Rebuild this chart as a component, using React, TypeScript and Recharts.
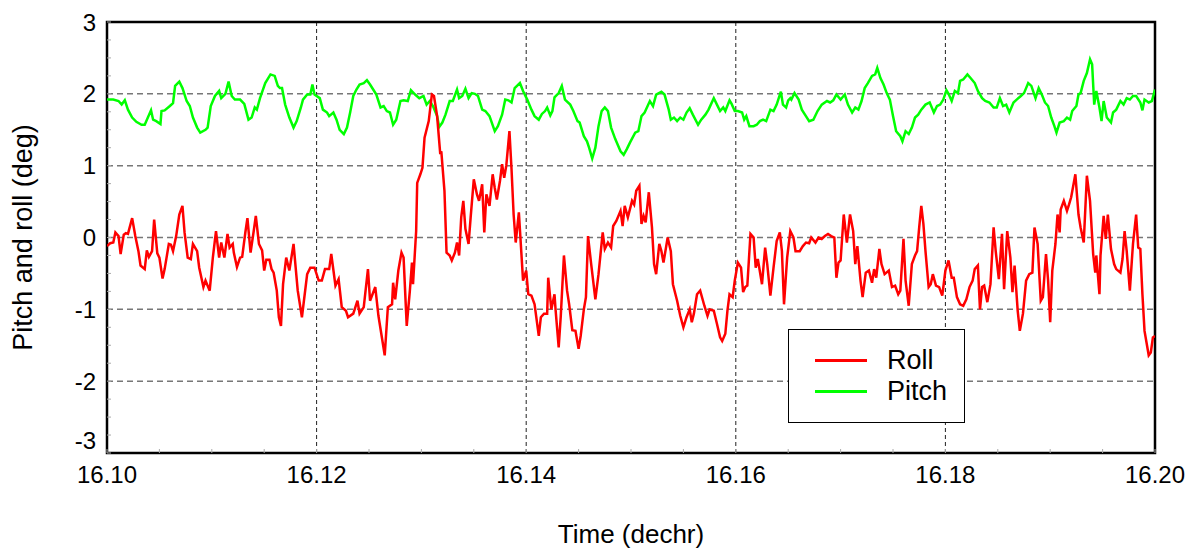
import { LineChart, Line, XAxis, YAxis, CartesianGrid, ReferenceArea, Legend } from 'recharts'

const FONT = '"Liberation Sans", Arial, Helvetica, sans-serif'

// tick labels
const xMajor = [16.1, 16.12, 16.14, 16.16, 16.18, 16.2]
const yMajor = [-3, -2, -1, 0, 1, 2, 3]
const xMinorStep = 0.005
const yMinorStep = 0.25
const legendOrder = ['Roll', 'Pitch']

// pitch (deg)
const pitchTime = [
  16.1, 16.1006, 16.1011, 16.1014, 16.1017, 16.102, 16.1024, 16.1028, 16.1033, 16.1036, 16.1039, 16.1042, 16.1044, 16.1047, 16.1051, 16.1052, 16.1055, 16.106, 16.1063, 16.1065, 16.1069, 16.1072, 16.1076, 16.1079, 16.1082, 16.1086, 16.1089, 16.1094, 16.1096, 16.1099, 16.1103, 16.1107, 16.1109, 16.1113, 16.1116, 16.1119, 16.1122, 16.1127, 16.1131, 16.1135, 16.1138, 16.1141, 16.1143, 16.1146, 16.1151, 16.1156, 16.116, 16.1163, 16.1165,
  16.1167, 16.117, 16.1174, 16.1178, 16.1181, 16.1185, 16.1187, 16.1191, 16.1194, 16.1196, 16.1198, 16.1203, 16.1206, 16.121, 16.1212, 16.1216, 16.1219, 16.1222, 16.1226, 16.1229, 16.1232, 16.1235, 16.1238, 16.1241, 16.1245, 16.1248, 16.1251, 16.1254, 16.1257, 16.1261, 16.1264, 16.1267, 16.127, 16.1273, 16.1276, 16.128, 16.1283, 16.1287, 16.129, 16.1294, 16.1298, 16.1302, 16.1305, 16.1308, 16.1311, 16.1315, 16.1317, 16.132, 16.1323, 16.1327,
  16.133, 16.1334, 16.1336, 16.1339, 16.1342, 16.1345, 16.1348, 16.1351, 16.1354, 16.1358, 16.1361, 16.1365, 16.137, 16.1373, 16.1377, 16.138, 16.1383, 16.1386, 16.1389, 16.1394, 16.1397, 16.1401, 16.1405, 16.1408, 16.1412, 16.1415, 16.1418, 16.142, 16.1423, 16.1425, 16.1427, 16.1431, 16.1434, 16.1437, 16.1442, 16.1445, 16.1449, 16.1451, 16.1455, 16.1458, 16.146, 16.1463, 16.1466, 16.1469, 16.1472, 16.1475, 16.1478, 16.1481, 16.1485, 16.149,
  16.1493, 16.1496, 16.1499, 16.1504, 16.1507, 16.151, 16.1513, 16.1518, 16.1521, 16.1524, 16.1529, 16.1532, 16.1536, 16.1538, 16.1541, 16.1544, 16.1547, 16.155, 16.1553, 16.1556, 16.1559, 16.1564, 16.1567, 16.1571, 16.1574, 16.1579, 16.1582, 16.1585, 16.1588, 16.159, 16.1594, 16.1596, 16.1599, 16.1602, 16.1606, 16.1608, 16.161, 16.1613, 16.1617, 16.162, 16.1623, 16.1626, 16.1629, 16.1633, 16.1636, 16.1639, 16.1643, 16.1645, 16.1648, 16.165, 16.1652,
  16.1653, 16.1656, 16.166, 16.1663, 16.1666, 16.167, 16.1674, 16.1678, 16.1682, 16.1687, 16.169, 16.1693, 16.1696, 16.17, 16.1704, 16.1707, 16.1711, 16.1714, 16.1717, 16.172, 16.1723, 16.1726, 16.173, 16.1733, 16.1735, 16.1738, 16.1741, 16.1744, 16.1747, 16.175, 16.1753, 16.1757, 16.1759, 16.1762, 16.1765, 16.1768, 16.1771, 16.1774, 16.1777, 16.1781, 16.1785, 16.1789, 16.1792, 16.1795, 16.1798, 16.1801, 16.1803, 16.1806, 16.1809, 16.1812, 16.1814,
  16.1817, 16.1821, 16.1824, 16.1828, 16.1831, 16.1835, 16.1838, 16.1842, 16.1846, 16.1849, 16.1852, 16.1855, 16.1858, 16.1861, 16.1865, 16.1868, 16.1872, 16.1875, 16.1879, 16.1882, 16.1886, 16.1889, 16.1892, 16.1895, 16.1898, 16.1901, 16.1904, 16.1906, 16.1909, 16.1913, 16.1916, 16.1919, 16.1921, 16.1925, 16.1927, 16.1929, 16.1932, 16.1935, 16.1938, 16.194, 16.1942, 16.1944, 16.1947, 16.1949, 16.1951, 16.1954, 16.1958, 16.196, 16.1963, 16.1967, 16.197, 16.1973, 16.1976, 16.1979, 16.1982, 16.1986, 16.1988, 16.199, 16.1994, 16.1997, 16.2,
]
const pitchDeg = [
  1.92, 1.92, 1.9, 1.85, 1.91, 1.78, 1.67, 1.61, 1.57, 1.57, 1.67, 1.77, 1.64, 1.62, 1.58, 1.76, 1.77, 1.83, 1.87, 2.11, 2.17, 2.08, 1.9, 1.83, 1.67, 1.53, 1.46, 1.5, 1.53, 1.83, 1.97, 2.04, 1.94, 2.0, 2.17, 1.97, 1.92, 1.92, 1.86, 1.64, 1.67, 1.81, 1.78, 1.94, 2.15, 2.27, 2.25, 2.11, 2.08,
  2.08, 1.85, 1.67, 1.53, 1.62, 1.81, 1.92, 1.99, 1.99, 2.13, 1.99, 1.94, 1.78, 1.74, 1.69, 1.74, 1.64, 1.5, 1.44, 1.53, 1.74, 1.97, 2.06, 2.13, 2.15, 2.19, 2.13, 2.06, 1.99, 1.81, 1.83, 1.76, 1.74, 1.57, 1.64, 1.9, 1.91, 1.9, 2.05, 1.99, 1.94, 1.97, 1.85, 1.9, 1.83, 1.69, 1.54, 1.6, 1.71, 1.9,
  1.9, 2.06, 1.94, 1.97, 2.07, 1.94, 2.01, 2.0, 1.97, 1.78, 1.76, 1.69, 1.48, 1.55, 1.71, 1.92, 1.91, 1.88, 2.08, 2.15, 2.04, 1.92, 1.78, 1.69, 1.64, 1.72, 1.76, 1.81, 1.7, 1.76, 1.95, 2.01, 2.11, 1.92, 1.85, 1.76, 1.62, 1.6, 1.41, 1.34, 1.25, 1.1, 1.25, 1.55, 1.76, 1.81, 1.76, 1.53, 1.37, 1.2,
  1.15, 1.23, 1.32, 1.46, 1.48, 1.69, 1.74, 1.9, 1.83, 1.99, 2.03, 1.99, 1.78, 1.64, 1.67, 1.62, 1.67, 1.64, 1.74, 1.8, 1.71, 1.57, 1.64, 1.71, 1.78, 1.94, 1.85, 1.76, 1.81, 1.76, 1.91, 1.86, 1.76, 1.76, 1.74, 1.64, 1.69, 1.55, 1.55, 1.57, 1.62, 1.64, 1.62, 1.78, 1.76, 1.85, 2.03, 1.85, 1.81, 1.91, 1.94,
  1.92, 2.01, 1.92, 1.78, 1.71, 1.62, 1.64, 1.76, 1.85, 1.9, 1.88, 1.91, 1.99, 1.92, 1.99, 1.85, 1.74, 1.81, 1.78, 1.9, 2.08, 2.15, 2.25, 2.27, 2.36, 2.22, 2.13, 2.01, 1.92, 1.69, 1.48, 1.41, 1.34, 1.48, 1.44, 1.53, 1.67, 1.71, 1.78, 1.85, 1.88, 1.74, 1.83, 1.85, 1.92, 2.05, 2.0, 1.9, 2.04, 2.01, 2.18,
  2.2, 2.27, 2.22, 2.15, 2.04, 1.94, 1.9, 1.88, 1.81, 1.81, 1.94, 1.83, 1.85, 1.74, 1.88, 1.92, 1.97, 2.01, 2.15, 2.11, 1.94, 2.08, 1.99, 1.88, 1.83, 1.67, 1.55, 1.46, 1.6, 1.62, 1.67, 1.64, 1.76, 1.83, 1.99, 2.01, 2.18, 2.29, 2.48, 2.41, 1.85, 2.04, 1.81, 1.62, 1.9, 1.67, 1.6, 1.74, 1.78, 1.9, 1.85, 1.94, 1.92, 1.97, 1.97, 1.88, 1.77, 1.92, 1.88, 1.9, 2.06,
]

// roll (deg)
const rollTime = [
  16.1, 16.1003, 16.1006, 16.1008, 16.1011, 16.1013, 16.1016, 16.1018, 16.102, 16.1024, 16.1027, 16.103, 16.1032, 16.1036, 16.1038, 16.104, 16.1043, 16.1045, 16.1048, 16.105, 16.1053, 16.1055, 16.1059, 16.1061, 16.1063, 16.1066, 16.1069, 16.1072, 16.1074, 16.1077, 16.108, 16.1082, 16.1086, 16.1088, 16.1092, 16.1094, 16.1098, 16.1101, 16.1104, 16.1107, 16.1109, 16.1112, 16.1115, 16.1117, 16.112, 16.1121, 16.1124, 16.1127, 16.1129, 16.1132, 16.1134, 16.1137, 16.114, 16.1142, 16.1145, 16.1148, 16.115, 16.1152, 16.1155, 16.1157, 16.1159, 16.1162, 16.1164,
  16.1166, 16.1168, 16.1171, 16.1174, 16.1178, 16.1182, 16.1186, 16.1191, 16.1194, 16.1198, 16.1202, 16.1205, 16.1208, 16.1212, 16.1214, 16.1218, 16.1221, 16.1224, 16.1228, 16.123, 16.1235, 16.1239, 16.1241, 16.1245, 16.1249, 16.1251, 16.1256, 16.1259, 16.1265, 16.1268, 16.1272, 16.1273, 16.1275, 16.1278, 16.1281, 16.1283, 16.1286, 16.1289, 16.1291, 16.1292, 16.1295, 16.1296, 16.1299, 16.1301, 16.1303, 16.1307, 16.131, 16.1312, 16.1315, 16.1318, 16.1319, 16.1322, 16.1324, 16.1327,
  16.1329, 16.1332, 16.1334, 16.1336, 16.1338, 16.134, 16.1342, 16.1345, 16.1347, 16.135, 16.1353, 16.1355, 16.1358, 16.136, 16.1362, 16.1365, 16.1368, 16.137, 16.1372, 16.1375, 16.1377, 16.1379, 16.1381, 16.1384, 16.1386, 16.1388, 16.139, 16.1393, 16.1397, 16.14, 16.1402, 16.1405, 16.1408, 16.1412, 16.1414, 16.1417, 16.142, 16.1421, 16.1424, 16.1427, 16.1428, 16.1431, 16.1433, 16.1436, 16.1439, 16.1441, 16.1444, 16.1447, 16.145, 16.1452, 16.1455, 16.1457, 16.1459, 16.1462, 16.1466, 16.1469, 16.1473, 16.1475, 16.1478, 16.1481, 16.1483, 16.1486, 16.149,
  16.1492, 16.1494, 16.1497, 16.1501, 16.1503, 16.1505, 16.1508, 16.151, 16.1512, 16.1514, 16.1517, 16.152, 16.1522, 16.1524, 16.1527, 16.1529, 16.1531, 16.1535, 16.1538, 16.154, 16.1544, 16.1547, 16.155, 16.1553, 16.1556, 16.1558, 16.156, 16.1563, 16.1566, 16.157, 16.1573, 16.1575, 16.1579, 16.1582, 16.1585, 16.1587, 16.159, 16.1592, 16.1594, 16.1597, 16.1599, 16.1602, 16.1605, 16.1607, 16.1609, 16.1611, 16.1614, 16.1617, 16.1619, 16.1621, 16.1625, 16.1628, 16.163, 16.1633, 16.1636, 16.1639, 16.1642, 16.1644, 16.1646, 16.1649, 16.1652,
  16.1655, 16.1657, 16.1661, 16.1664, 16.1667, 16.167, 16.1672, 16.1676, 16.1679, 16.1682, 16.1685, 16.1688, 16.1691, 16.1694, 16.1696, 16.1698, 16.17, 16.1703, 16.1706, 16.1709, 16.1712, 16.1714, 16.1716, 16.1719, 16.1721, 16.1724, 16.1727, 16.173, 16.1732, 16.1734, 16.1737, 16.1739, 16.1742, 16.1746, 16.1749, 16.1752, 16.1755, 16.1757, 16.176, 16.1762, 16.1765, 16.1768, 16.1771, 16.1773, 16.1775, 16.1777, 16.1779, 16.1781, 16.1784, 16.1786, 16.1788, 16.1791, 16.1794, 16.1797, 16.18, 16.1803, 16.1806, 16.1808, 16.1811, 16.1814,
  16.1817, 16.182, 16.1823, 16.1826, 16.1828, 16.1831, 16.1833, 16.1835, 16.1837, 16.184, 16.1843, 16.1846, 16.1848, 16.1851, 16.1854, 16.1856, 16.1859, 16.1862, 16.1864, 16.1866, 16.1869, 16.1871, 16.1874, 16.1877, 16.188, 16.1883, 16.1885, 16.1888, 16.1891, 16.1893, 16.1896, 16.1898, 16.19, 16.1902, 16.1905, 16.1907, 16.1909, 16.191, 16.1913, 16.1916, 16.1918, 16.192, 16.1924, 16.1927, 16.1929, 16.1932, 16.1935, 16.1938, 16.1941, 16.1943, 16.1944, 16.1947, 16.1948, 16.1951, 16.1953, 16.1955, 16.1958, 16.1961, 16.1963, 16.1967, 16.1969, 16.1971, 16.1973, 16.1976, 16.1978, 16.1979, 16.1982, 16.1984, 16.1986, 16.1988, 16.199, 16.1994, 16.1996, 16.1998, 16.2,
]
const rollDeg = [
  -0.12, -0.08, -0.07, 0.07, 0.02, -0.23, 0.04, 0.06, 0.05, 0.27, 0.02, -0.19, -0.39, -0.44, -0.18, -0.27, -0.19, 0.25, -0.22, -0.28, -0.57, -0.44, -0.09, -0.1, -0.19, 0.02, 0.32, 0.44, 0.07, -0.28, -0.3, -0.09, -0.19, -0.42, -0.69, -0.6, -0.74, -0.28, 0.09, -0.28, -0.07, -0.28, 0.05, -0.14, -0.09, -0.21, -0.41, -0.28, -0.27, 0.07, 0.27, -0.21, 0.09, 0.3, -0.09, -0.18, -0.46, -0.31, -0.31, -0.44, -0.49, -0.74, -1.11,
  -1.23, -0.65, -0.28, -0.46, -0.09, -0.74, -1.11, -0.51, -0.42, -0.42, -0.6, -0.6, -0.44, -0.44, -0.23, -0.67, -0.58, -0.97, -1.02, -1.11, -1.06, -0.88, -1.06, -0.97, -0.44, -0.88, -0.69, -1.09, -1.64, -0.97, -0.93, -0.63, -0.86, -0.46, -0.21, -0.28, -1.23, -0.74, -0.35, -0.65, 0.09, 0.76, 0.88, 0.97, 1.39, 1.62, 1.99, 1.97, 1.69, 1.16, 1.2, 0.65, -0.21, -0.25,
  -0.32, -0.21, -0.07, -0.25, 0.28, 0.51, 0.12, -0.09, 0.28, 0.81, 0.6, 0.51, 0.74, 0.07, 0.6, 0.44, 0.88, 0.69, 0.53, 0.79, 1.02, 0.83, 1.0, 1.48, 0.95, 0.32, -0.07, 0.35, -0.6, -0.46, -0.79, -0.81, -0.93, -1.37, -1.11, -1.06, -1.06, -0.56, -1.0, -0.79, -1.0, -1.53, -1.09, -0.25, -0.74, -0.93, -1.29, -1.3, -1.55, -1.37, -1.0, -0.83, 0.02, -0.37, -0.86, -0.51, 0.07, -0.16, -0.07, -0.14, 0.16, 0.23, 0.37,
  0.16, 0.44, 0.28, 0.51, 0.46, 0.65, 0.72, 0.19, 0.3, 0.21, 0.63, 0.14, -0.37, -0.51, -0.09, -0.19, -0.35, 0.0, -0.19, -0.65, -0.88, -1.09, -1.25, -1.11, -1.0, -1.18, -1.06, -0.79, -0.74, -0.95, -1.09, -1.0, -1.02, -1.2, -1.39, -1.44, -1.34, -1.02, -0.79, -0.83, -0.6, -0.35, -0.42, -0.76, -0.69, -0.67, 0.05, 0.0, -0.42, -0.3, -0.65, -0.14, -0.37, -0.81, -0.42, -0.05, 0.07, -0.19, -0.93, -0.28, 0.09,
  0.0, -0.19, -0.19, -0.12, -0.07, -0.08, 0.0, -0.07, 0.0, -0.02, 0.02, 0.05, 0.02, 0.0, -0.56, -0.35, -0.32, 0.32, -0.07, 0.32, 0.09, -0.37, -0.12, -0.6, -0.83, -0.49, -0.46, -0.63, -0.44, -0.56, -0.16, -0.37, -0.51, -0.46, -0.69, -0.67, -0.79, -0.74, -0.02, -0.6, -0.95, -0.37, -0.25, -0.19, 0.14, 0.44, 0.19, -0.19, -0.69, -0.65, -0.51, -0.67, -0.69, -0.81, -0.46, -0.32, -0.56, -0.56, -0.83, -0.93,
  -0.95, -0.86, -0.69, -0.6, -0.44, -0.39, -1.0, -0.69, -0.67, -0.9, -0.65, 0.14, -0.19, -0.58, 0.05, -0.72, 0.09, -0.28, -0.76, -0.39, -1.02, -1.3, -1.06, -0.6, -0.51, -0.49, 0.14, -0.09, -0.88, -0.83, -0.23, -0.6, -1.18, -0.46, -0.09, 0.32, 0.07, 0.39, 0.51, 0.37, 0.46, 0.56, 0.88, 0.32, 0.14, -0.07, 0.86, 0.51, -0.23, -0.49, -0.25, -0.79, -0.25, 0.3, -0.02, 0.32, -0.16, -0.37, -0.44, -0.49, -0.3, 0.09, -0.19, -0.74, -0.3, -0.09, 0.32, -0.14, -0.16, -0.79, -1.3, -1.64, -1.6, -1.39, -1.37,
]

const zip = (t: number[], v: number[]) =>
  t.slice(0, Math.min(t.length, v.length)).map((time, i) => ({ time, value: v[i] }))

const pitchData = zip(pitchTime, pitchDeg)
const rollData = zip(rollTime, rollDeg)

const xTicks = Array.from({ length: 21 }, (_, i) => +(16.1 + i * xMinorStep).toFixed(4))
const yTicks = Array.from({ length: 25 }, (_, i) => +(-3 + i * yMinorStep).toFixed(2))
const isMajor = (v: number, list: number[]) => list.some(m => Math.abs(m - v) < 1e-6)

function YTick({ x, y, payload }: any) {
  const v = payload?.value
  if (!isMajor(v, yMajor)) return <g />
  // the lowest label sits a bit higher, clear of the 16.10 label
  const dy = v === yMajor[0] ? -4 : 8.5
  return (
    <text x={x} y={y} dy={dy} textAnchor="end" fill="#000" fontSize={24} fontFamily={FONT}>
      {v}
    </text>
  )
}

function LegendBox({ payload }: any) {
  const items = [...(payload ?? [])].sort(
    (a, b) => legendOrder.indexOf(a.value) - legendOrder.indexOf(b.value)
  )
  return (
    <div style={{
      boxSizing: 'border-box', width: 177, height: 94, border: '1.5px solid #000',
      background: '#fff', paddingTop: 15,
    }}>
      {items.map(item => (
        <div key={item.value} style={{ display: 'flex', alignItems: 'center', height: 31 }}>
          <span style={{ display: 'inline-block', marginLeft: 26, width: 52, height: 2.5, background: item.color }} />
          <span style={{ marginLeft: 20, fontSize: 27, fontFamily: FONT, color: '#000', lineHeight: '31px' }}>
            {item.value}
          </span>
        </div>
      ))}
    </div>
  )
}

export default function App() {
  return (
    <div style={{ position: 'absolute', left: 0, top: 0, background: '#fff' }}>
      <LineChart width={1203} height={550} margin={{ top: 22, right: 48, left: 7, bottom: 0 }}>
        <CartesianGrid horizontal={false} verticalValues={[16.12, 16.14, 16.16, 16.18]}
          stroke="#222" strokeDasharray="4 3" />
        <CartesianGrid vertical={false} horizontalValues={[-2, -1, 0, 1, 2]}
          stroke="#777" strokeWidth={1.5} strokeDasharray="6 4" />
        <XAxis
          dataKey="time" type="number" domain={[16.1, 16.2]} allowDataOverflow
          ticks={xTicks} interval={0} height={97}
          tickFormatter={(v: number) => (isMajor(v, xMajor) ? v.toFixed(2) : '')}
          tick={{ fill: '#000', fontSize: 24, fontFamily: FONT }}
          tickSize={-4} tickMargin={17} axisLine={false} tickLine={{ stroke: '#aaa' }}
          label={{ value: 'Time (dechr)', position: 'insideBottom', offset: 7, fill: '#000', fontSize: 26, fontFamily: FONT }}
        />
        <YAxis
          type="number" domain={[-3, 3]} allowDataOverflow ticks={yTicks} interval={0} width={100}
          tick={<YTick />} tickSize={-4} tickMargin={15} axisLine={false} tickLine={{ stroke: '#aaa' }}
          label={{
            value: 'Pitch and roll (deg)', angle: -90, position: 'insideLeft', offset: 15,
            fill: '#000', fontSize: 27, fontFamily: FONT, style: { textAnchor: 'middle' },
          }}
        />
        <ReferenceArea x1={16.1} x2={16.2} y1={-3} y2={3} fill="none" fillOpacity={0}
          stroke="#000" strokeWidth={2.5} ifOverflow="visible" />
        <Line data={pitchData} dataKey="value" name="Pitch" stroke="#00ff00" strokeWidth={2.5}
          dot={false} activeDot={false} isAnimationActive={false} />
        <Line data={rollData} dataKey="value" name="Roll" stroke="#ff0000" strokeWidth={2.5}
          dot={false} activeDot={false} isAnimationActive={false} />
        <Legend layout="vertical" align="center" verticalAlign="middle"
          wrapperStyle={{ left: 788, top: 329, width: 177, height: 94 }}
          content={<LegendBox />} />
      </LineChart>
    </div>
  )
}
